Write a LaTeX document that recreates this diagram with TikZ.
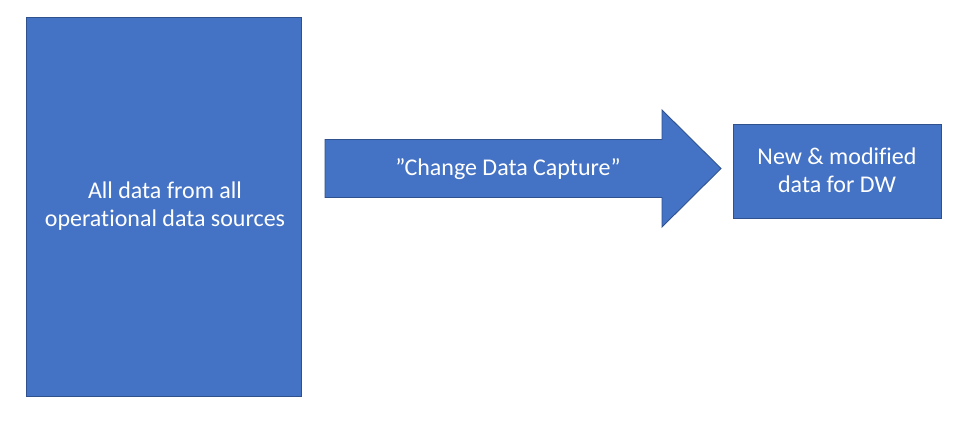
\documentclass[tikz,border=0pt]{standalone}
\usepackage{fontspec}
\setmainfont[Ligatures={NoCommon}]{Carlito}
\definecolor{obluefill}{HTML}{4472C4}
\definecolor{obluedraw}{HTML}{2F528F}
\begin{document}
\begin{tikzpicture}[x=1pt,y=-1pt,
  blk/.style={fill=obluefill,draw=obluedraw,line width=0.9pt},
  lbl/.style={text=white,font=\fontsize{24}{28.5}\selectfont,align=center,inner sep=0pt,anchor=base}]
\useasboundingbox[fill=white] (0,0) rectangle (966,443);
\draw[blk] (26,17) rectangle (301,396);
\node[lbl] (src) at (165,227) {All data from all\\operational data sources};
\draw[blk] (325,139.5) -- (662,139.5) -- (662,110) -- (721,168.5) -- (662,227) -- (662,197.5) -- (325,197.5) -- cycle;
\node[lbl] (cdc) at (508,176) {”Change Data Capture”};
\draw[blk] (733,124) rectangle (941,218);
\node[lbl] (dw) at (837,193) {New \& modified\\data for DW};
\end{tikzpicture}
\end{document}
